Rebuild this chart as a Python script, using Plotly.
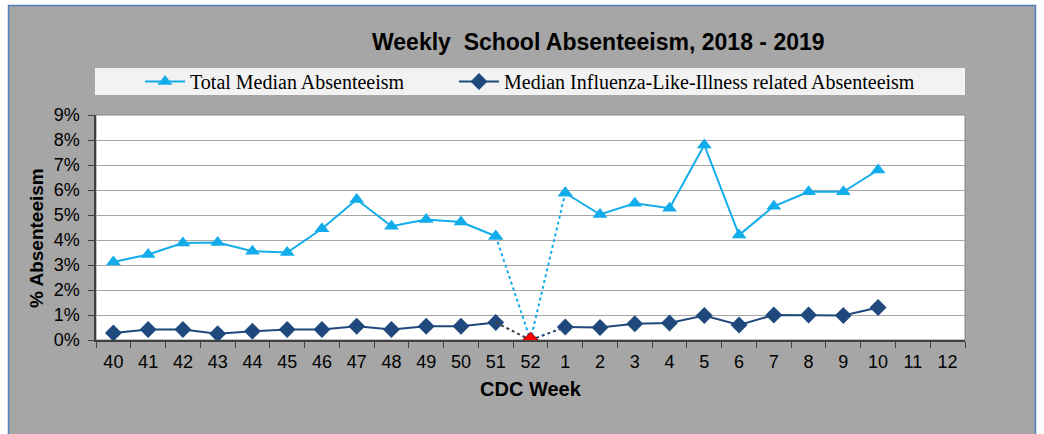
import plotly.graph_objects as go

weeks = ["40", "41", "42", "43", "44", "45", "46", "47", "48", "49", "50", "51", "52",
         "1", "2", "3", "4", "5", "6", "7", "8", "9", "10", "11", "12"]
total_median = [3.12, 3.42, 3.88, 3.9, 3.55, 3.5, 4.45, 5.62, 4.55, 4.82, 4.72, 4.15, 0.0,
                5.88, 5.02, 5.47, 5.27, 7.8, 4.2, 5.35, 5.93, 5.93, 6.8, None, None]
ili_median = [0.28, 0.42, 0.42, 0.25, 0.35, 0.42, 0.42, 0.55, 0.42, 0.55, 0.55, 0.7, 0.0,
              0.52, 0.5, 0.65, 0.68, 0.98, 0.6, 1.0, 1.0, 0.98, 1.3, None, None]
y_ticks = [0, 1, 2, 3, 4, 5, 6, 7, 8, 9]
y_tick_labels = [f"{v}%" for v in y_ticks]
break_week = "52"

LIGHT = "#12ACEB"
DARK = "#1F497D"

# plot area in pixels
L, R, T, B = 96, 965, 115, 340
W, H = 1044, 434
def px_x(px):
    return (px - L) / (R - L)
def px_y(py):
    return (B - py) / (B - T)

bi = weeks.index(break_week)
def solid(vals):
    return [None if i == bi else v for i, v in enumerate(vals)]
seg_x = weeks[bi - 1:bi + 2]

fig = go.Figure()
fig.add_trace(go.Scatter(x=weeks, y=solid(total_median), name="Total Median Absenteeism",
                         mode="lines+markers", connectgaps=False, legend="legend",
                         line=dict(color=LIGHT, width=2),
                         marker=dict(symbol="triangle-up", size=13, color=LIGHT)))
fig.add_trace(go.Scatter(x=weeks, y=solid(ili_median),
                         name="Median Influenza-Like-Illness related Absenteeism",
                         mode="lines+markers", connectgaps=False, legend="legend2",
                         line=dict(color=DARK, width=2),
                         marker=dict(symbol="diamond", size=13, color=DARK)))
fig.add_trace(go.Scatter(x=seg_x, y=total_median[bi - 1:bi + 2], mode="lines+markers",
                         showlegend=False, line=dict(color=LIGHT, width=2, dash="dot"),
                         marker=dict(symbol="triangle-up", size=13, color=LIGHT)))
fig.add_trace(go.Scatter(x=seg_x[:2], y=ili_median[bi - 1:bi + 1], mode="lines",
                         showlegend=False, line=dict(color="#404040", width=2, dash="dot")))
fig.add_trace(go.Scatter(x=seg_x[1:], y=ili_median[bi:bi + 2], mode="lines",
                         showlegend=False, line=dict(color=DARK, width=2, dash="dot")))
fig.add_trace(go.Scatter(x=[break_week], y=[ili_median[bi]], mode="markers", showlegend=False,
                         marker=dict(symbol="diamond", size=12, color="#FF0000",
                                     line=dict(color="#7F0000", width=1))))

shapes = [
    dict(type="rect", xref="paper", yref="paper", layer="below",
         x0=px_x(8.5), x1=px_x(1035.5), y0=px_y(5.5), y1=px_y(445),
         fillcolor="#A6A6A6", line=dict(color="#4F81BD", width=1.5)),
    dict(type="rect", xref="paper", yref="paper", layer="below",
         x0=px_x(95), x1=px_x(965), y0=px_y(68), y1=px_y(95),
         fillcolor="#F2F2F2", line=dict(width=0)),
    dict(type="rect", xref="paper", yref="paper", layer="below",
         x0=0, x1=1, y0=0, y1=1,
         fillcolor="#FFFFFF", line=dict(color="#868686", width=1)),
]

annotations = [
    dict(text="<b>Weekly  School Absenteeism, 2018 - 2019</b>", xref="paper", yref="paper",
         x=px_x(598), y=px_y(42), showarrow=False, xanchor="center", yanchor="middle",
         font=dict(family="Liberation Sans, Arial", size=23, color="#000000")),
    dict(text="<b>% Absenteeism</b>", xref="paper", yref="paper", textangle=-90,
         x=px_x(36), y=px_y(238), showarrow=False, xanchor="center", yanchor="middle",
         font=dict(family="Liberation Sans, Arial", size=19, color="#000000")),
    dict(text="<b>CDC Week</b>", xref="paper", yref="paper",
         x=px_x(531), y=px_y(389), showarrow=False, xanchor="center", yanchor="middle",
         font=dict(family="Liberation Sans, Arial", size=20, color="#000000")),
]

leg_font = dict(family="Liberation Serif, Times New Roman", size=20, color="#000000")
fig.update_layout(
    width=W, height=H,
    margin=dict(l=L, r=W - R, t=T, b=H - B, pad=0),
    paper_bgcolor="#FFFFFF", plot_bgcolor="rgba(0,0,0,0)",
    showlegend=True,
    legend=dict(orientation="h", x=px_x(140), xanchor="left", y=px_y(81.5), yanchor="middle",
                bgcolor="rgba(0,0,0,0)", font=leg_font, itemwidth=40),
    legend2=dict(orientation="h", x=px_x(454), xanchor="left", y=px_y(81.5), yanchor="middle",
                 bgcolor="rgba(0,0,0,0)", font=leg_font, itemwidth=40),
    shapes=shapes, annotations=annotations,
    xaxis=dict(type="category", categoryorder="array", categoryarray=weeks,
               range=[-0.5, len(weeks) - 0.5], tickson="boundaries", ticks="outside",
               ticklen=6, tickcolor="#404040", showline=True, linecolor="#404040",
               linewidth=1.5, showgrid=False, zeroline=False, ticklabelstandoff=5,
               tickfont=dict(family="Liberation Sans, Arial", size=18, color="#000000")),
    yaxis=dict(range=[0, 9], tickvals=y_ticks, ticktext=y_tick_labels, ticks="outside",
               ticklen=6, tickcolor="#404040", showline=True, linecolor="#404040",
               linewidth=1.5, showgrid=True, gridcolor="#A6A6A6", gridwidth=1,
               zeroline=False, ticklabelstandoff=5,
               tickfont=dict(family="Liberation Sans, Arial", size=18, color="#000000")),
)

fig.write_html("out.html", config={"displayModeBar": False},
               post_script="document.body.style.margin='0px';")
